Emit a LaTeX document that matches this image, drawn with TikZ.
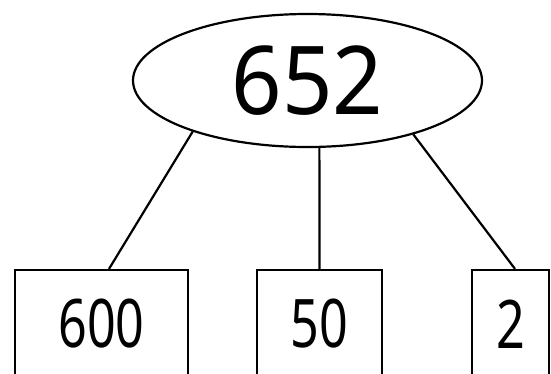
\documentclass[tikz,border=0pt]{standalone}
\usepackage{fontspec}
\setmainfont{Noto Sans}
\newfontfamily\rootfont[FakeStretch=0.93]{Noto Sans}
\newfontfamily\narrowfont[FakeStretch=0.75]{Noto Sans}
\usepackage{tikz}
\usetikzlibrary{positioning,shapes.geometric}
\tikzset{
  rootnode/.style={ellipse, draw, line width=2.2pt, minimum width=349pt, minimum height=133pt, inner sep=0pt, font=\rootfont\fontsize{95}{95}\selectfont},
  digitbox/.style={rectangle, draw, line width=2.2pt, minimum height=108pt, inner sep=0pt, font=\narrowfont\fontsize{67}{67}\selectfont},
  link/.style={line width=2.2pt},
}
\begin{document}
\begin{tikzpicture}[x=1pt,y=-1pt]
\useasboundingbox (0,0) rectangle (551,373);
\clip (0,0) rectangle (551,373);
%Nodes
\node[rootnode] (root) at (307.5,80.5) {652};
\node[digitbox, minimum width=173pt] (hundreds) at (101.5,324) {600};
\node[digitbox, minimum width=125pt] (tens) at (319.5,324) {50};
\node[digitbox, minimum width=77pt] (ones) at (510.5,324) {2};

%Lines
\draw[link] (root.204.5) -- ([xshift=7.5pt]hundreds.north);
\draw[link] (root.280.5) -- (tens.north);
\draw[link] (root.333.5) -- ([xshift=4.5pt]ones.north);
\end{tikzpicture}
\end{document}
